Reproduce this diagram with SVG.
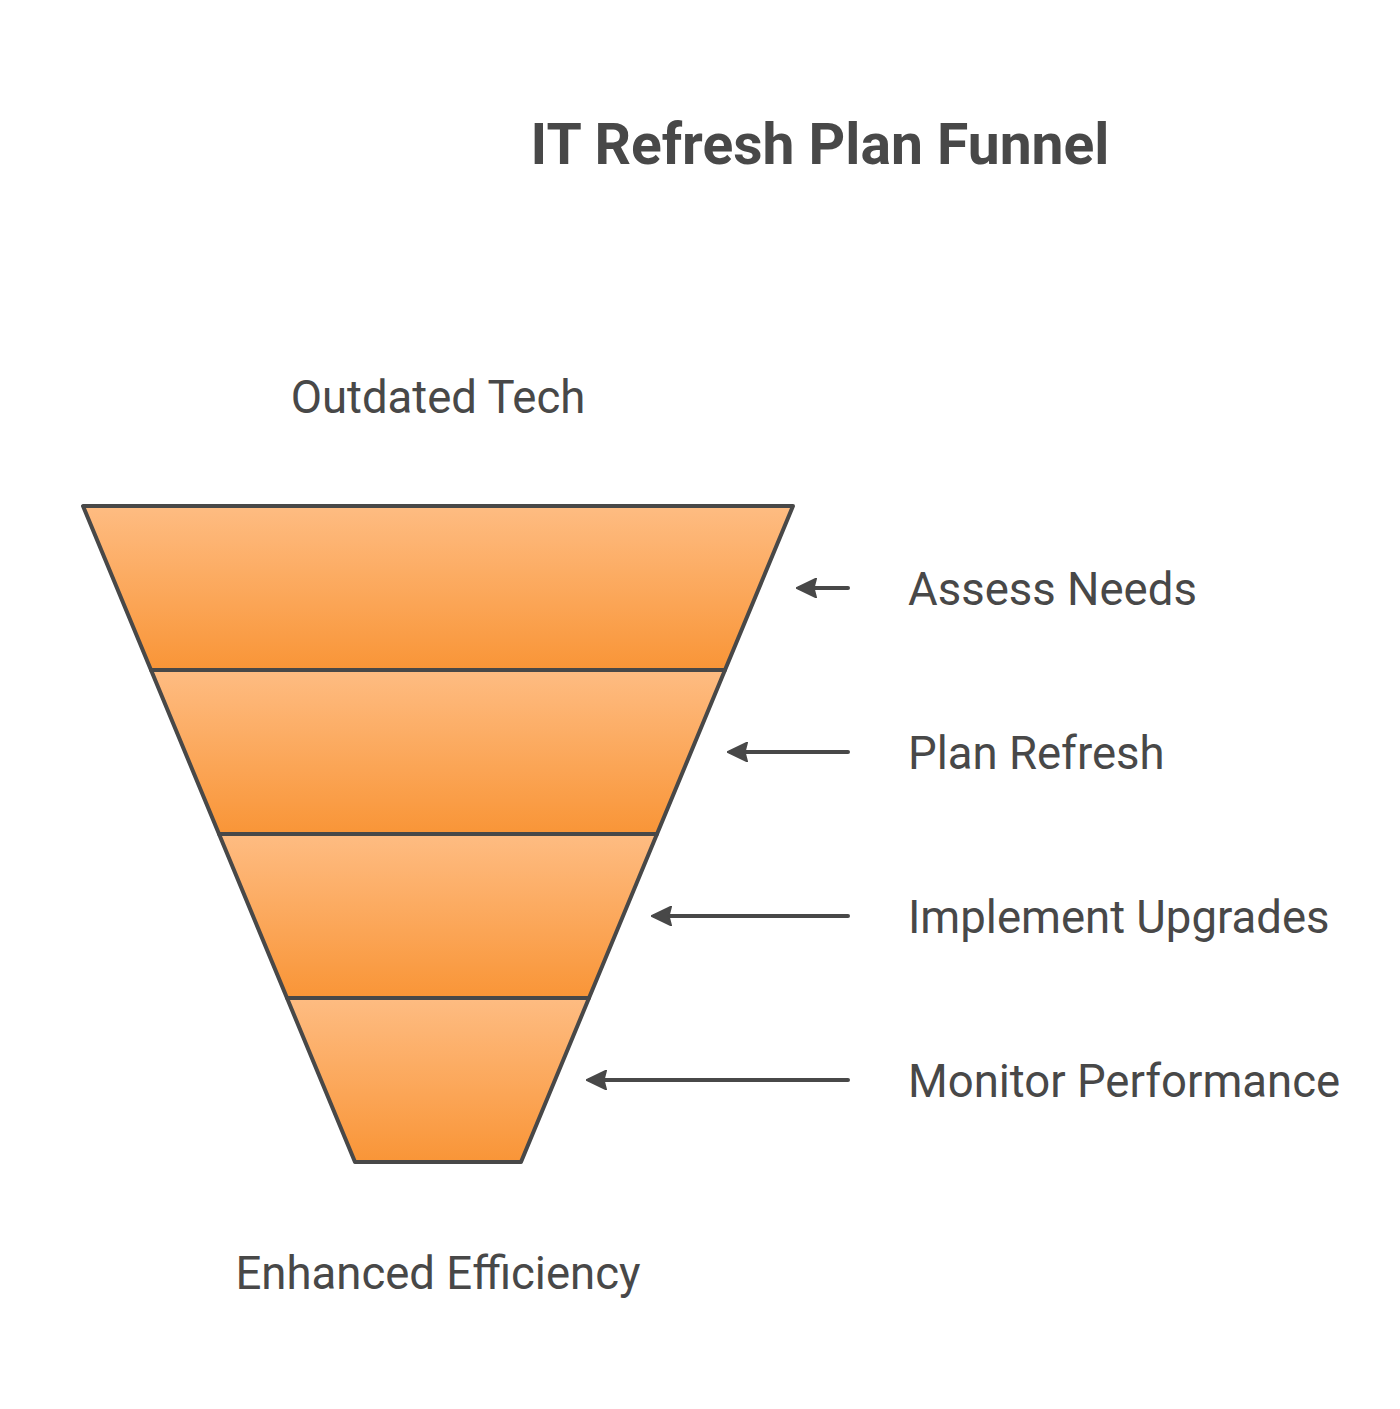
<svg xmlns="http://www.w3.org/2000/svg" width="1400" height="1409" viewBox="0 0 1400 1409">
<defs>
<linearGradient id="g" x1="0" y1="0" x2="0" y2="1">
<stop offset="0" stop-color="#FEBC82"/>
<stop offset="1" stop-color="#F99537"/>
</linearGradient>
<marker id="ah" viewBox="0 0 10 10" refX="8.2" refY="5" markerWidth="5.2" markerHeight="5.2" orient="auto" markerUnits="strokeWidth">
<path d="M10,5 L0.4,0.4 L1.6,5 L0.4,9.6 Z" fill="#484848" stroke="#484848" stroke-width="0.8" stroke-linejoin="round"/>
</marker>
<style>
.seg{fill:url(#g);stroke:#484848;stroke-width:4;stroke-linejoin:round}
.lbl{font-family:Roboto,"Liberation Sans",sans-serif;font-size:45.5px;fill:#484848}
.ttl{font-family:Roboto,"Liberation Sans",sans-serif;font-size:57px;font-weight:bold;fill:#484848}
.arr{stroke:#484848;stroke-width:4;fill:none;stroke-linecap:round}
</style>
</defs>
<rect width="1400" height="1409" fill="#ffffff"/>
<text class="ttl" x="820" y="164" text-anchor="middle">IT Refresh Plan Funnel</text>
<text class="lbl" x="438" y="413" text-anchor="middle">Outdated Tech</text>
<text class="lbl" x="438" y="1289" text-anchor="middle">Enhanced Efficiency</text>
<g id="stage1">
<path class="seg" d="M83,506 L793,506 L725,670 L151,670 Z"/>
<text class="lbl" x="908" y="605">Assess Needs</text>
</g>
<g id="stage2">
<path class="seg" d="M151,670 L725,670 L657,834 L219,834 Z"/>
<text class="lbl" x="908" y="769">Plan Refresh</text>
</g>
<g id="stage3">
<path class="seg" d="M219,834 L657,834 L589,998 L287,998 Z"/>
<text class="lbl" x="908" y="933">Implement Upgrades</text>
</g>
<g id="stage4">
<path class="seg" d="M287,998 L589,998 L521,1162 L355,1162 Z"/>
<text class="lbl" x="908" y="1097">Monitor Performance</text>
</g>
<g id="connectors">
<line class="arr" x1="848" y1="588" x2="800" y2="588" marker-end="url(#ah)"/>
<line class="arr" x1="848" y1="752" x2="731" y2="752" marker-end="url(#ah)"/>
<line class="arr" x1="848" y1="916" x2="655" y2="916" marker-end="url(#ah)"/>
<line class="arr" x1="848" y1="1080" x2="590" y2="1080" marker-end="url(#ah)"/>
</g>
</svg>
